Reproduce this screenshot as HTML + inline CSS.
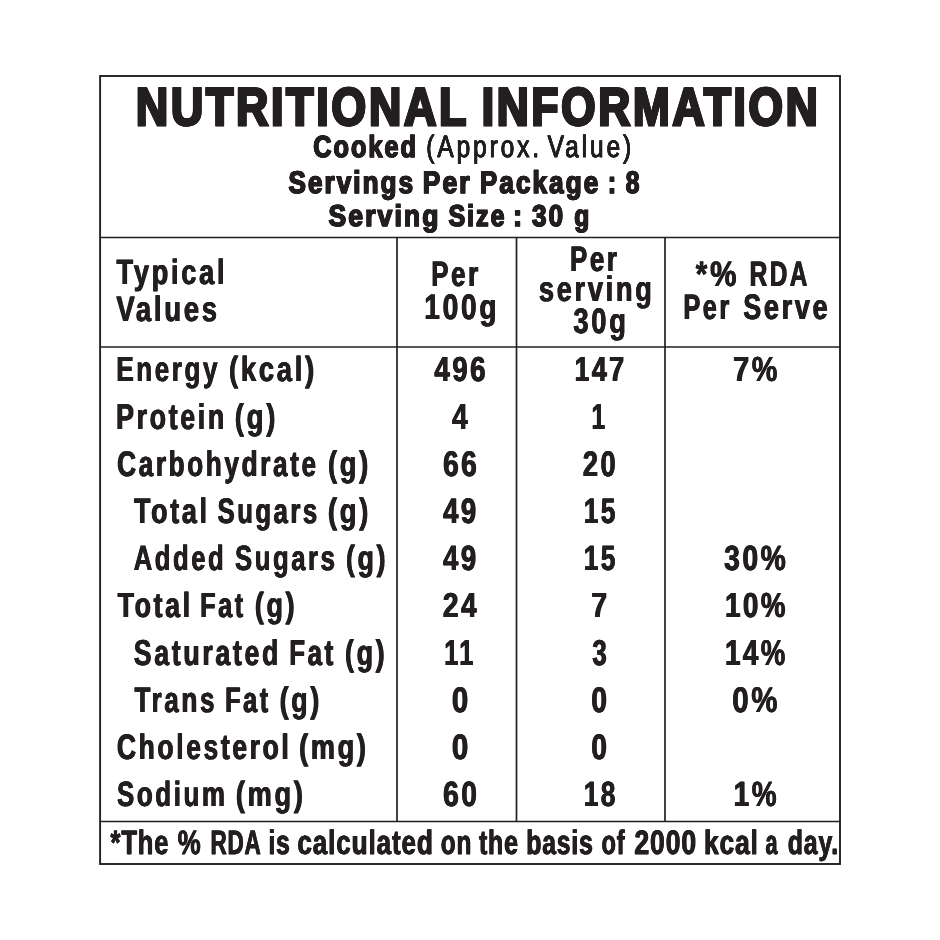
<!DOCTYPE html>
<html lang="en"><head><meta charset="utf-8"><title>Nutritional Information</title>
<style>
html,body{margin:0;padding:0;background:#fff;}
body{width:940px;height:940px;overflow:hidden;}
svg{display:block;will-change:transform;}
text{font-family:"Liberation Sans",Arial,Helvetica,sans-serif;fill:#231f20;stroke:#231f20;stroke-linejoin:miter;stroke-miterlimit:2.5;text-rendering:geometricPrecision;font-weight:bold;}
.title{stroke-width:2.40px;letter-spacing:0.060em;text-shadow:0.25px 0 0 #231f20,-0.25px 0 0 #231f20;}
.sub{stroke-width:1.10px;letter-spacing:0.080em;text-shadow:0.25px 0 0 #231f20,-0.25px 0 0 #231f20;}
.subr{stroke-width:0.55px;letter-spacing:0.120em;text-shadow:0.12px 0 0 #231f20,-0.12px 0 0 #231f20;}
.tab{stroke-width:0.20px;letter-spacing:0.100em;text-shadow:0.42px 0 0 #231f20,-0.42px 0 0 #231f20;}
.num{stroke-width:0.20px;letter-spacing:0.090em;text-shadow:0.42px 0 0 #231f20,-0.42px 0 0 #231f20;}
.foot{stroke-width:0.30px;letter-spacing:0.035em;text-shadow:0.38px 0 0 #231f20,-0.38px 0 0 #231f20;}
.subr{font-weight:normal;}
</style></head>
<body>
<svg width="940" height="940" viewBox="0 0 940 940">
<rect x="0" y="0" width="940" height="940" fill="#ffffff"/>
<g id="grid" fill="none" stroke="#231f20">
<rect x="100.1" y="76" width="739.9" height="788" stroke-width="1.9"/>
<line x1="100" y1="237.6" x2="840" y2="237.6" stroke-width="1.5"/>
<line x1="100" y1="346.9" x2="840" y2="346.9" stroke-width="1.5"/>
<line x1="100" y1="821.6" x2="840" y2="821.6" stroke-width="1.5"/>
<line x1="397" y1="237.6" x2="397" y2="821.6" stroke-width="1.7"/>
<line x1="516.5" y1="237.6" x2="516.5" y2="821.6" stroke-width="1.7"/>
<line x1="665" y1="237.6" x2="665" y2="821.6" stroke-width="1.7"/>
</g>
<g id="txt">
<text id="t1" class="title" y="125.00" font-size="52.98"><tspan id="t1_0" x="135.87" textLength="332.35" lengthAdjust="spacingAndGlyphs">NUTRITIONAL</tspan> <tspan id="t1_1" x="481.72" textLength="338.64" lengthAdjust="spacingAndGlyphs">INFORMATION</tspan></text>
<text id="s1a" class="sub" y="157.00" font-size="30.45"><tspan id="s1a_0" x="313.33" textLength="104.59" lengthAdjust="spacingAndGlyphs">Cooked</tspan></text>
<text id="s1b" class="subr" y="157.00" font-size="30.85"><tspan id="s1b_0" x="426.26" textLength="115.81" lengthAdjust="spacingAndGlyphs">(Approx.</tspan> <tspan id="s1b_1" x="547.72" textLength="86.43" lengthAdjust="spacingAndGlyphs">Value)</tspan></text>
<text id="s2" class="sub" y="193.00" font-size="31.18"><tspan id="s2_0" x="288.49" textLength="126.70" lengthAdjust="spacingAndGlyphs">Servings</tspan> <tspan id="s2_1" x="422.66" textLength="49.12" lengthAdjust="spacingAndGlyphs">Per</tspan> <tspan id="s2_2" x="479.87" textLength="120.41" lengthAdjust="spacingAndGlyphs">Package</tspan> <tspan id="s2_3" x="607.83" textLength="10.27" lengthAdjust="spacingAndGlyphs">:</tspan> <tspan id="s2_4" x="625.77" textLength="15.66" lengthAdjust="spacingAndGlyphs">8</tspan></text>
<text id="s3" class="sub" y="226.00" font-size="29.94"><tspan id="s3_0" x="328.59" textLength="111.86" lengthAdjust="spacingAndGlyphs">Serving</tspan> <tspan id="s3_1" x="448.43" textLength="58.12" lengthAdjust="spacingAndGlyphs">Size</tspan> <tspan id="s3_2" x="512.93" textLength="11.33" lengthAdjust="spacingAndGlyphs">:</tspan> <tspan id="s3_3" x="532.02" textLength="33.22" lengthAdjust="spacingAndGlyphs">30</tspan> <tspan id="s3_4" x="574.19" textLength="16.97" lengthAdjust="spacingAndGlyphs">g</tspan></text>
<text id="h1a" class="tab" y="284.00" font-size="35.03"><tspan id="h1a_0" x="116.54" textLength="110.70" lengthAdjust="spacingAndGlyphs">Typical</tspan></text>
<text id="h1b" class="tab" y="321.00" font-size="35.32"><tspan id="h1b_0" x="116.43" textLength="103.38" lengthAdjust="spacingAndGlyphs">Values</tspan></text>
<text id="h2a" class="tab" y="286.00" font-size="35.32"><tspan id="h2a_0" x="431.20" textLength="49.56" lengthAdjust="spacingAndGlyphs">Per</tspan></text>
<text id="h2b" class="tab" y="319.00" font-size="35.32"><tspan id="h2b_0" x="424.24" textLength="75.11" lengthAdjust="spacingAndGlyphs">100g</tspan></text>
<text id="h3a" class="tab" y="271.00" font-size="35.32"><tspan id="h3a_0" x="570.03" textLength="49.51" lengthAdjust="spacingAndGlyphs">Per</tspan></text>
<text id="h3b" class="tab" y="301.00" font-size="35.32"><tspan id="h3b_0" x="538.90" textLength="115.66" lengthAdjust="spacingAndGlyphs">serving</tspan></text>
<text id="h3c" class="tab" y="333.00" font-size="35.32"><tspan id="h3c_0" x="573.38" textLength="55.25" lengthAdjust="spacingAndGlyphs">30g</tspan></text>
<text id="h4a" class="tab" y="286.00" font-size="35.32"><tspan id="h4a_0" x="695.75" textLength="43.76" lengthAdjust="spacingAndGlyphs">*%</tspan> <tspan id="h4a_1" x="749.64" textLength="60.23" lengthAdjust="spacingAndGlyphs">RDA</tspan></text>
<text id="h4b" class="tab" y="319.00" font-size="35.32"><tspan id="h4b_0" x="683.39" textLength="48.38" lengthAdjust="spacingAndGlyphs">Per</tspan> <tspan id="h4b_1" x="743.22" textLength="87.06" lengthAdjust="spacingAndGlyphs">Serve</tspan></text>
<text id="l0" class="tab" y="381.00" font-size="34.74"><tspan id="l0_0" x="116.32" textLength="103.70" lengthAdjust="spacingAndGlyphs">Energy</tspan> <tspan id="l0_1" x="229.04" textLength="87.90" lengthAdjust="spacingAndGlyphs">(kcal)</tspan></text>
<text id="l1" class="tab" y="429.00" font-size="35.90"><tspan id="l1_0" x="116.09" textLength="110.83" lengthAdjust="spacingAndGlyphs">Protein</tspan> <tspan id="l1_1" x="234.73" textLength="43.43" lengthAdjust="spacingAndGlyphs">(g)</tspan></text>
<text id="l2" class="tab" y="476.00" font-size="35.61"><tspan id="l2_0" x="117.15" textLength="201.49" lengthAdjust="spacingAndGlyphs">Carbohydrate</tspan> <tspan id="l2_1" x="327.97" textLength="43.01" lengthAdjust="spacingAndGlyphs">(g)</tspan></text>
<text id="l3" class="tab" y="523.00" font-size="35.32"><tspan id="l3_0" x="134.00" textLength="75.67" lengthAdjust="spacingAndGlyphs">Total</tspan> <tspan id="l3_1" x="217.62" textLength="102.07" lengthAdjust="spacingAndGlyphs">Sugars</tspan> <tspan id="l3_2" x="327.95" textLength="43.18" lengthAdjust="spacingAndGlyphs">(g)</tspan></text>
<text id="l4" class="tab" y="570.00" font-size="35.03"><tspan id="l4_0" x="133.75" textLength="92.47" lengthAdjust="spacingAndGlyphs">Added</tspan> <tspan id="l4_1" x="235.00" textLength="102.48" lengthAdjust="spacingAndGlyphs">Sugars</tspan> <tspan id="l4_2" x="346.06" textLength="42.08" lengthAdjust="spacingAndGlyphs">(g)</tspan></text>
<text id="l5" class="tab" y="617.00" font-size="34.74"><tspan id="l5_0" x="117.63" textLength="75.16" lengthAdjust="spacingAndGlyphs">Total</tspan> <tspan id="l5_1" x="200.16" textLength="45.51" lengthAdjust="spacingAndGlyphs">Fat</tspan> <tspan id="l5_2" x="254.86" textLength="42.40" lengthAdjust="spacingAndGlyphs">(g)</tspan></text>
<text id="l6" class="tab" y="665.00" font-size="35.90"><tspan id="l6_0" x="133.78" textLength="147.26" lengthAdjust="spacingAndGlyphs">Saturated</tspan> <tspan id="l6_1" x="289.19" textLength="46.61" lengthAdjust="spacingAndGlyphs">Fat</tspan> <tspan id="l6_2" x="345.06" textLength="42.22" lengthAdjust="spacingAndGlyphs">(g)</tspan></text>
<text id="l7" class="tab" y="712.00" font-size="35.61"><tspan id="l7_0" x="134.48" textLength="82.58" lengthAdjust="spacingAndGlyphs">Trans</tspan> <tspan id="l7_1" x="225.12" textLength="45.57" lengthAdjust="spacingAndGlyphs">Fat</tspan> <tspan id="l7_2" x="279.69" textLength="42.22" lengthAdjust="spacingAndGlyphs">(g)</tspan></text>
<text id="l8" class="tab" y="759.00" font-size="35.32"><tspan id="l8_0" x="116.89" textLength="174.53" lengthAdjust="spacingAndGlyphs">Cholesterol</tspan> <tspan id="l8_1" x="299.08" textLength="69.61" lengthAdjust="spacingAndGlyphs">(mg)</tspan></text>
<text id="l9" class="tab" y="806.00" font-size="35.03"><tspan id="l9_0" x="116.99" textLength="110.54" lengthAdjust="spacingAndGlyphs">Sodium</tspan> <tspan id="l9_1" x="235.85" textLength="69.80" lengthAdjust="spacingAndGlyphs">(mg)</tspan></text>
<text id="a0" class="num" y="381.00" font-size="34.74"><tspan id="a0_0" x="434.37" textLength="53.78" lengthAdjust="spacingAndGlyphs">496</tspan></text>
<text id="b0" class="num" y="381.00" font-size="34.74"><tspan id="b0_0" x="574.47" textLength="52.09" lengthAdjust="spacingAndGlyphs">147</tspan></text>
<text id="c0" class="num" y="381.00" font-size="34.74"><tspan id="c0_0" x="733.12" textLength="46.92" lengthAdjust="spacingAndGlyphs">7%</tspan></text>
<text id="a1" class="num" y="429.00" font-size="35.90"><tspan id="a1_0" x="451.97" textLength="18.32" lengthAdjust="spacingAndGlyphs">4</tspan></text>
<text id="b1" class="num" y="429.00" font-size="35.90"><tspan id="b1_0" x="591.48" textLength="15.86" lengthAdjust="spacingAndGlyphs">1</tspan></text>
<text id="a2" class="num" y="476.00" font-size="35.61"><tspan id="a2_0" x="443.09" textLength="36.26" lengthAdjust="spacingAndGlyphs">66</tspan></text>
<text id="b2" class="num" y="476.00" font-size="35.61"><tspan id="b2_0" x="582.87" textLength="35.22" lengthAdjust="spacingAndGlyphs">20</tspan></text>
<text id="a3" class="num" y="523.00" font-size="35.32"><tspan id="a3_0" x="443.07" textLength="35.59" lengthAdjust="spacingAndGlyphs">49</tspan></text>
<text id="b3" class="num" y="523.00" font-size="35.32"><tspan id="b3_0" x="583.75" textLength="34.02" lengthAdjust="spacingAndGlyphs">15</tspan></text>
<text id="a4" class="num" y="570.00" font-size="35.03"><tspan id="a4_0" x="443.04" textLength="35.58" lengthAdjust="spacingAndGlyphs">49</tspan></text>
<text id="b4" class="num" y="570.00" font-size="35.03"><tspan id="b4_0" x="583.73" textLength="34.07" lengthAdjust="spacingAndGlyphs">15</tspan></text>
<text id="c4" class="num" y="570.00" font-size="35.03"><tspan id="c4_0" x="724.18" textLength="64.09" lengthAdjust="spacingAndGlyphs">30%</tspan></text>
<text id="a5" class="num" y="617.00" font-size="34.74"><tspan id="a5_0" x="442.80" textLength="36.47" lengthAdjust="spacingAndGlyphs">24</tspan></text>
<text id="b5" class="num" y="617.00" font-size="34.74"><tspan id="b5_0" x="591.35" textLength="18.25" lengthAdjust="spacingAndGlyphs">7</tspan></text>
<text id="c5" class="num" y="617.00" font-size="34.74"><tspan id="c5_0" x="725.10" textLength="62.80" lengthAdjust="spacingAndGlyphs">10%</tspan></text>
<text id="a6" class="num" y="665.00" font-size="35.90"><tspan id="a6_0" x="444.19" textLength="31.37" lengthAdjust="spacingAndGlyphs">11</tspan></text>
<text id="b6" class="num" y="665.00" font-size="35.90"><tspan id="b6_0" x="592.34" textLength="16.71" lengthAdjust="spacingAndGlyphs">3</tspan></text>
<text id="c6" class="num" y="665.00" font-size="35.90"><tspan id="c6_0" x="725.08" textLength="62.68" lengthAdjust="spacingAndGlyphs">14%</tspan></text>
<text id="a7" class="num" y="712.00" font-size="35.61"><tspan id="a7_0" x="451.92" textLength="18.91" lengthAdjust="spacingAndGlyphs">0</tspan></text>
<text id="b7" class="num" y="712.00" font-size="35.61"><tspan id="b7_0" x="591.32" textLength="18.06" lengthAdjust="spacingAndGlyphs">0</tspan></text>
<text id="c7" class="num" y="712.00" font-size="35.61"><tspan id="c7_0" x="732.25" textLength="47.84" lengthAdjust="spacingAndGlyphs">0%</tspan></text>
<text id="a8" class="num" y="759.00" font-size="35.32"><tspan id="a8_0" x="451.93" textLength="18.94" lengthAdjust="spacingAndGlyphs">0</tspan></text>
<text id="b8" class="num" y="759.00" font-size="35.32"><tspan id="b8_0" x="591.31" textLength="18.06" lengthAdjust="spacingAndGlyphs">0</tspan></text>
<text id="a9" class="num" y="806.00" font-size="35.03"><tspan id="a9_0" x="443.05" textLength="36.48" lengthAdjust="spacingAndGlyphs">60</tspan></text>
<text id="b9" class="num" y="806.00" font-size="35.03"><tspan id="b9_0" x="583.74" textLength="34.13" lengthAdjust="spacingAndGlyphs">18</tspan></text>
<text id="c9" class="num" y="806.00" font-size="35.03"><tspan id="c9_0" x="733.68" textLength="45.43" lengthAdjust="spacingAndGlyphs">1%</tspan></text>
<text id="f1" class="foot" y="854.00" font-size="33.94"><tspan id="f1_0" x="110.58" textLength="58.75" lengthAdjust="spacingAndGlyphs">*The</tspan> <tspan id="f1_1" x="177.80" textLength="23.81" lengthAdjust="spacingAndGlyphs">%</tspan> <tspan id="f1_2" x="210.41" textLength="50.29" lengthAdjust="spacingAndGlyphs">RDA</tspan> <tspan id="f1_3" x="268.46" textLength="22.12" lengthAdjust="spacingAndGlyphs">is</tspan> <tspan id="f1_4" x="297.41" textLength="136.29" lengthAdjust="spacingAndGlyphs">calculated</tspan> <tspan id="f1_5" x="440.75" textLength="31.42" lengthAdjust="spacingAndGlyphs">on</tspan> <tspan id="f1_6" x="478.94" textLength="39.90" lengthAdjust="spacingAndGlyphs">the</tspan> <tspan id="f1_7" x="526.37" textLength="67.31" lengthAdjust="spacingAndGlyphs">basis</tspan> <tspan id="f1_8" x="601.50" textLength="23.92" lengthAdjust="spacingAndGlyphs">of</tspan> <tspan id="f1_9" x="634.38" textLength="62.65" lengthAdjust="spacingAndGlyphs">2000</tspan> <tspan id="f1_10" x="704.10" textLength="54.69" lengthAdjust="spacingAndGlyphs">kcal</tspan> <tspan id="f1_11" x="765.50" textLength="12.76" lengthAdjust="spacingAndGlyphs">a</tspan> <tspan id="f1_12" x="787.80" textLength="51.28" lengthAdjust="spacingAndGlyphs">day.</tspan></text>
</g>
</svg>
</body></html>
